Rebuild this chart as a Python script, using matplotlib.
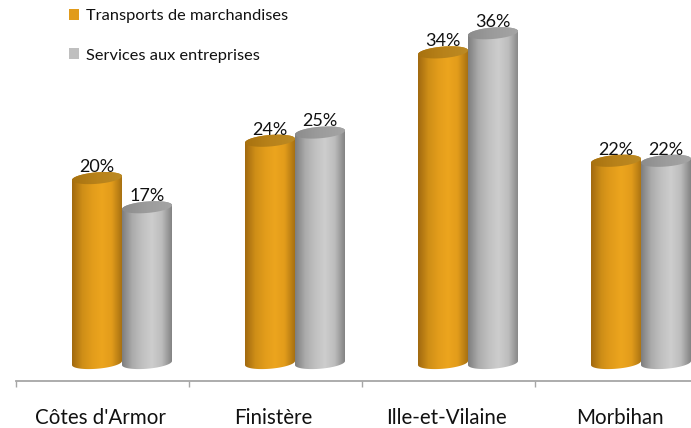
import matplotlib
matplotlib.use("Agg")
import matplotlib.pyplot as plt
import numpy as np
from matplotlib.colors import LinearSegmentedColormap
from matplotlib.patches import Polygon, Patch

plt.rcParams["font.family"] = ["Lato", "DejaVu Sans"]

categories = ["Côtes d'Armor", "Finistère", "Ille-et-Vilaine", "Morbihan"]
series_names = ["Transports de marchandises", "Services aux entreprises"]
transports = [20.3, 24.4, 34.1, 22.2]
services = [17.1, 25.3, 36.2, 22.2]
transports_labels = ["20%", "24%", "34%", "22%"]
services_labels = ["17%", "25%", "36%", "22%"]

W, H = 691, 428
BASE_PX = 363
PX_PER_PCT = 9.11
CAT_PX = 173
LEFT_PX = 16
AXIS_PX = 381
BAR_W = 50 / CAT_PX
PAIR_SHIFT = 19.5 / CAT_PX
ELL_H = 11.5 / PX_PER_PCT
SKEW = 2 / PX_PER_PCT  # ends of the cylinder tilt up to the right

ORANGE = LinearSegmentedColormap.from_list(
    "orange", ["#A26A10", "#CE8E17", "#E29C1B", "#ECA51E", "#E29C1B", "#A97212"])
GREY = LinearSegmentedColormap.from_list(
    "grey", ["#7F7F7F", "#ABABAB", "#C0C0C0", "#CDCDCD", "#BDBDBD", "#858585"])
ORANGE_TOP = LinearSegmentedColormap.from_list("otop", ["#A8720F", "#B8821A", "#BC8A24"])
GREY_TOP = LinearSegmentedColormap.from_list("gtop", ["#8C8C8C", "#9C9C9C", "#A4A4A4"])


def end_curve(x, y, start, stop):
    t = np.linspace(start, stop, 60)
    c = np.cos(t)
    return np.column_stack([x + BAR_W / 2 * c, y + ELL_H / 2 * np.sin(t) + SKEW * c])


def gradient(ax, verts, x, y0, y1, cmap, z):
    patch = Polygon(verts, closed=True, fc="none", ec="none", zorder=z)
    ax.add_patch(patch)
    im = ax.imshow(np.linspace(0, 1, 64)[None, :], cmap=cmap, aspect="auto",
                   extent=(x - BAR_W / 2, x + BAR_W / 2, y0, y1), zorder=z)
    im.set_clip_path(patch)


def cylinder(ax, x, value, cmap, top_cmap, z):
    """Bar with tilted elliptical ends, horizontal gradient clipped to the outline."""
    bottom = end_curve(x, 0, np.pi, 2 * np.pi)
    top = end_curve(x, value, 0, np.pi)
    pad = ELL_H + SKEW
    gradient(ax, np.vstack([bottom, top]), x, -pad, value + pad, cmap, z)
    cap = end_curve(x, value, 0, 2 * np.pi)
    gradient(ax, cap, x, value - pad, value + pad, top_cmap, z + 0.1)


fig = plt.figure(figsize=(W / 100, H / 100), dpi=100)
ax = fig.add_axes([0, 0, 1, 1])

x = np.arange(len(categories))
for i in x:
    xa = i + PAIR_SHIFT - BAR_W / 2
    xb = i + PAIR_SHIFT + BAR_W / 2
    cylinder(ax, xa, transports[i], ORANGE, ORANGE_TOP, 2 + i)
    cylinder(ax, xb, services[i], GREY, GREY_TOP, 2.5 + i)
    ax.text(xa, transports[i] + ELL_H / 2 + 0.05, transports_labels[i],
            ha="center", va="baseline", fontsize=13, color="#111111", zorder=10)
    ax.text(xb, services[i] + ELL_H / 2 + 0.05, services_labels[i],
            ha="center", va="baseline", fontsize=13, color="#111111", zorder=10)

ax.set_xlim(-0.5 - LEFT_PX / CAT_PX, -0.5 + (W - LEFT_PX) / CAT_PX)
ax.set_ylim((BASE_PX - H) / PX_PER_PCT, BASE_PX / PX_PER_PCT)

for s in ["top", "left", "right"]:
    ax.spines[s].set_visible(False)
ax.spines["bottom"].set_position(("data", (BASE_PX - AXIS_PX) / PX_PER_PCT))
ax.spines["bottom"].set_color("#A6A6A6")
ax.spines["bottom"].set_linewidth(1.3)
ax.spines["bottom"].set_bounds(-0.5, ax.get_xlim()[1])
ax.set_yticks([])
ax.set_xticks(np.arange(-0.5, 3.5))
ax.set_xticklabels([])
ax.tick_params(axis="x", which="major", length=4.5, width=1.0, color="#A6A6A6")
ax.set_xticks(x - 2 / CAT_PX, minor=True)
ax.set_xticklabels(categories, minor=True, fontsize=14.8, color="#111111")
ax.tick_params(axis="x", which="minor", length=0, pad=19.5)

handles = [Patch(fc="#E19B1B", ec="none"), Patch(fc="#BFBFBF", ec="none")]
ax.legend(handles, series_names, loc="upper left", bbox_to_anchor=(69 / W, 1 - 9 / H),
          frameon=False, fontsize=11.8, handlelength=0.62, handleheight=0.62,
          handletextpad=0.42, labelspacing=1.55, borderpad=0, borderaxespad=0,
          labelcolor="#111111")

fig.savefig("out.png", dpi=100)
